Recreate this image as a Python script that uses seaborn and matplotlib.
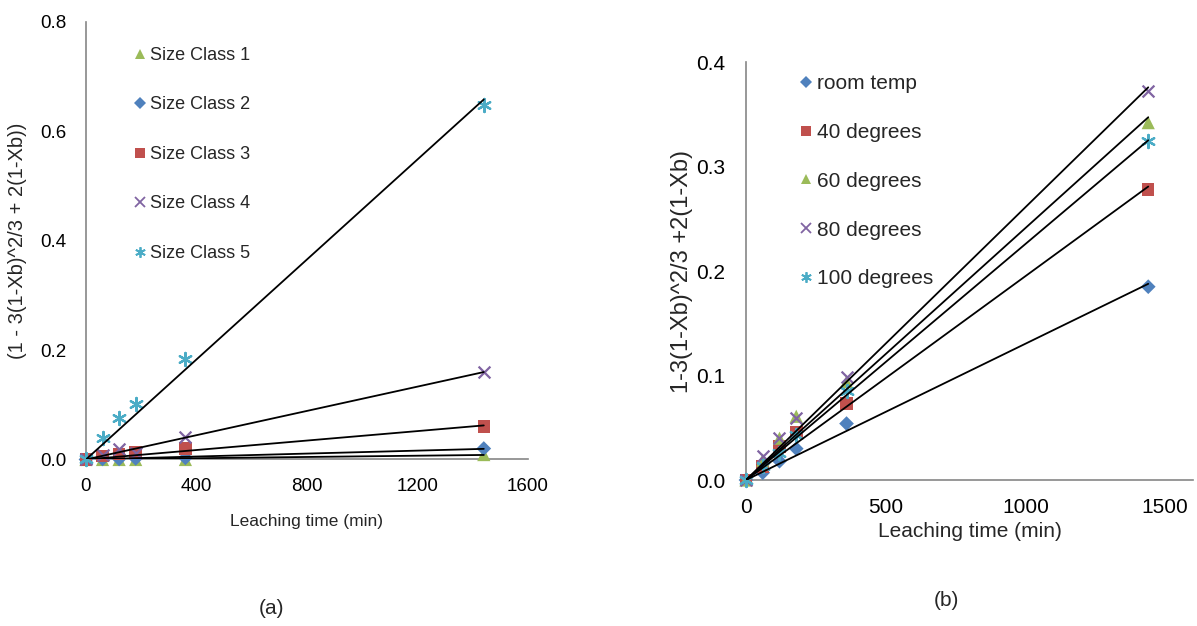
import numpy as np
import pandas as pd
import matplotlib
matplotlib.use("Agg")
import matplotlib.pyplot as plt
import seaborn as sns

# ---------------- data ----------------
time_min = [0, 60, 120, 180, 360, 1440]

size_labels = ["Size Class 1", "Size Class 2", "Size Class 3", "Size Class 4", "Size Class 5"]
size_c1 = [0.0, 0.0, 0.0, 0.0, 0.0, 0.009]
size_c2 = [0.0, 0.001, 0.001, 0.002, 0.003, 0.020]
size_c3 = [0.0, 0.006, 0.010, 0.013, 0.020, 0.060]
size_c4 = [0.0, 0.008, 0.020, 0.012, 0.041, 0.160]
size_c5 = [0.0, 0.040, 0.076, 0.102, 0.183, 0.649]

temp_labels = ["room temp", "40 degrees", "60 degrees", "80 degrees", "100 degrees"]
temp_room = [0.0, 0.007, 0.018, 0.030, 0.054, 0.185]
temp_40 = [0.0, 0.013, 0.032, 0.046, 0.073, 0.278]
temp_60 = [0.0, 0.019, 0.040, 0.061, 0.094, 0.342]
temp_80 = [0.0, 0.023, 0.040, 0.059, 0.099, 0.372]
temp_100 = [0.0, 0.013, 0.026, 0.043, 0.085, 0.324]

# ---------------- style ----------------
sns.set_style("white")
plt.rcParams["font.family"] = ["Liberation Sans", "DejaVu Sans"]

GREEN = "#9BBB59"
BLUE = "#4F81BD"
RED = "#C0504D"
PURPLE = "#8064A2"
CYAN = "#4BACC6"
AXGRAY = "#868686"
STAR = (6, 2, 0)

def long_frame(labels, series):
    rows = []
    for lab, vals in zip(labels, series):
        for t, v in zip(time_min, vals):
            rows.append({"time": t, "value": v, "series": lab})
    return pd.DataFrame(rows)

def trend_frame(labels, series):
    x = np.array(time_min, dtype=float)
    rows = []
    for lab, vals in zip(labels, series):
        y = np.array(vals, dtype=float)
        slope = (x * y).sum() / (x * x).sum()   # linear trendline through origin
        for t in (0.0, x.max()):
            rows.append({"time": t, "value": slope * t, "series": lab})
    return pd.DataFrame(rows)

fig = plt.figure(figsize=(11.97, 6.26), dpi=100)
ax1 = fig.add_axes([0.0718, 0.2660, 0.3693, 0.6989])
ax2 = fig.add_axes([0.6232, 0.2332, 0.3734, 0.6677])

def style_axes(ax, fs, xpad, ypad):
    sns.despine(ax=ax)
    for s in ("left", "bottom"):
        ax.spines[s].set_color(AXGRAY)
        ax.spines[s].set_linewidth(1.2)
    ax.tick_params(axis="both", which="major", direction="out", length=5, width=1.2,
                   color=AXGRAY, labelsize=fs, labelcolor="black")
    ax.tick_params(axis="x", pad=xpad)
    ax.tick_params(axis="y", pad=ypad)
    ax.set_facecolor("white")

def is_line(m):
    return m in ("x", STAR)

def draw(ax, labels, series, colors, markers, sizes):
    df = long_frame(labels, series)
    for i, lab in enumerate(labels):
        sub = df[df["series"] == lab]
        sns.scatterplot(data=sub, x="time", y="value", ax=ax, color=colors[i],
                        marker=markers[i], s=sizes[i] ** 2,
                        linewidth=(1.6 if is_line(markers[i]) else 0),
                        edgecolor=(colors[i] if is_line(markers[i]) else "none"),
                        legend=False, clip_on=False, zorder=3)
    tf = trend_frame(labels, series)
    sns.lineplot(data=tf, x="time", y="value", units="series", estimator=None,
                 color="black", linewidth=1.3, ax=ax, legend=False, zorder=4)
    handles = [plt.Line2D([], [], linestyle="none", marker=markers[i], color=colors[i],
                          markersize=sizes[i] * 0.8,
                          markeredgewidth=(1.3 if is_line(markers[i]) else 0))
               for i in range(len(labels))]
    return handles

# ---------------- panel (a) ----------------
colors_a = [GREEN, BLUE, RED, PURPLE, CYAN]
markers_a = ["^", "D", "s", "x", STAR]
sizes_a = [9.5, 7.5, 9, 8.5, 9.5]
h1 = draw(ax1, size_labels, [size_c1, size_c2, size_c3, size_c4, size_c5],
          colors_a, markers_a, sizes_a)
ax1.set_xlim(0, 1600)
ax1.set_ylim(0, 0.8)
ax1.set_xticks([0, 400, 800, 1200, 1600])
ax1.set_yticks([0.0, 0.2, 0.4, 0.6, 0.8])
ax1.yaxis.set_major_formatter(matplotlib.ticker.FormatStrFormatter("%.1f"))
style_axes(ax1, 13.5, 8, 9)
ax1.set_xlabel("Leaching time (min)", fontsize=12.5)
ax1.set_ylabel("(1 - 3(1-Xb)^2/3 + 2(1-Xb))", fontsize=14.5)
ax1.xaxis.set_label_coords(0.5, -0.124)
ax1.yaxis.set_label_coords(-0.133, 0.5)
ax1.legend(h1, size_labels, loc="upper left", bbox_to_anchor=(0.11, 0.943),
           frameon=False, fontsize=13, labelspacing=1.8, handlelength=0.6,
           handletextpad=0.25, borderaxespad=0, borderpad=0)

# ---------------- panel (b) ----------------
colors_b = [BLUE, RED, GREEN, PURPLE, CYAN]
markers_b = ["D", "s", "^", "x", STAR]
sizes_b = [7.5, 9, 9.5, 8.5, 9.5]
h2 = draw(ax2, temp_labels, [temp_room, temp_40, temp_60, temp_80, temp_100],
          colors_b, markers_b, sizes_b)
ax2.set_xlim(0, 1600)
ax2.set_ylim(0, 0.4)
ax2.set_xticks([0, 500, 1000, 1500])
ax2.set_yticks([0.0, 0.1, 0.2, 0.3, 0.4])
ax2.yaxis.set_major_formatter(matplotlib.ticker.FormatStrFormatter("%.1f"))
style_axes(ax2, 15, 8, 10)
ax2.set_xlabel("Leaching time (min)", fontsize=15)
ax2.set_ylabel("1-3(1-Xb)^2/3 +2(1-Xb)", fontsize=17)
ax2.xaxis.set_label_coords(0.5, -0.1)
ax2.yaxis.set_label_coords(-0.118, 0.5)
ax2.legend(h2, temp_labels, loc="upper left", bbox_to_anchor=(0.12, 0.971),
           frameon=False, fontsize=15, labelspacing=1.43, handlelength=0.6,
           handletextpad=0.25, borderaxespad=0, borderpad=0)

fig.text(272 / 1197, 1 - 608 / 626, "(a)", ha="center", va="center", fontsize=15)
fig.text(946 / 1197, 1 - 600 / 626, "(b)", ha="center", va="center", fontsize=15)

fig.savefig("out.png", dpi=100, facecolor="white")
